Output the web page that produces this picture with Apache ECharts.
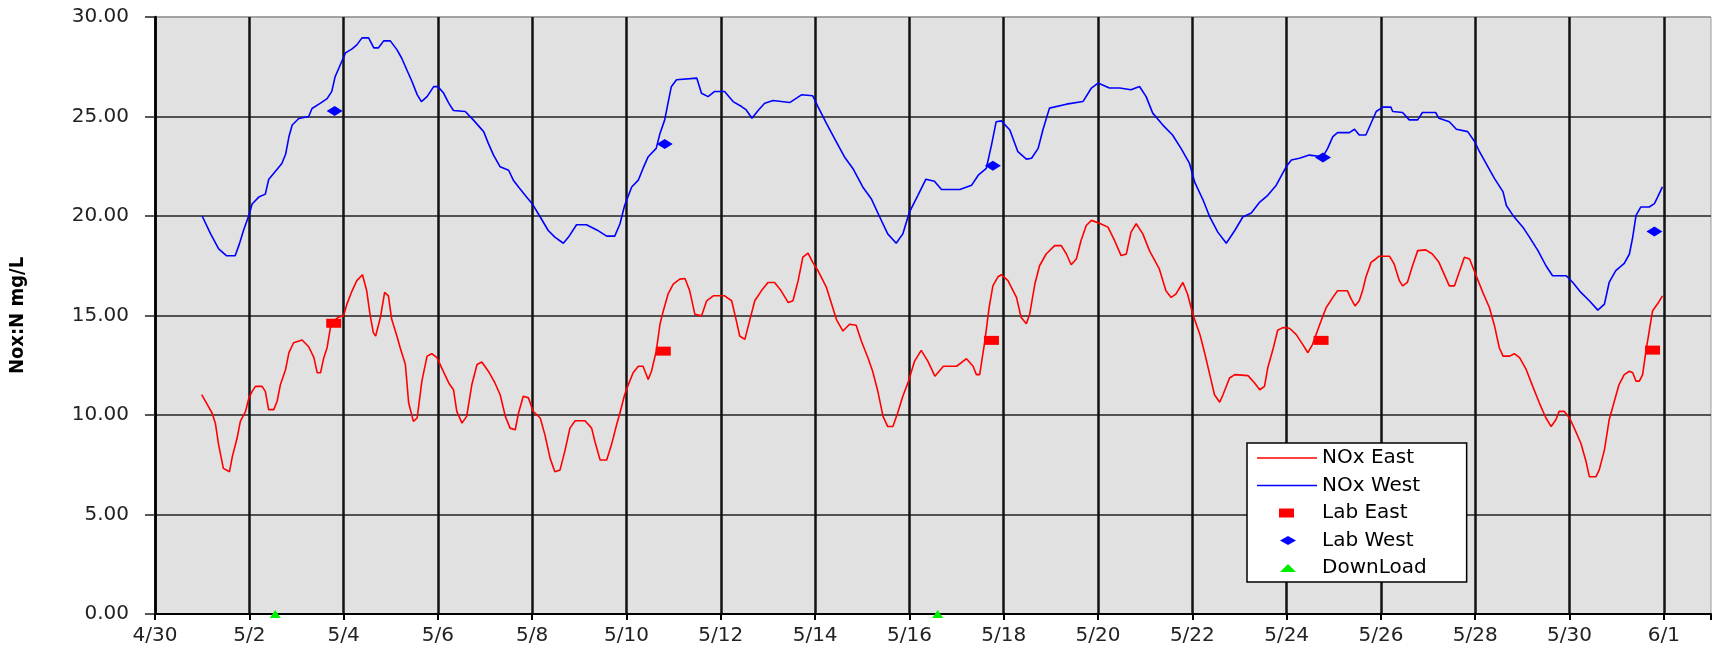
<!DOCTYPE html>
<html>
<head>
<meta charset="utf-8">
<title>NOx East / West</title>
<script src="https://cdn.jsdelivr.net/npm/echarts@6/dist/echarts.min.js"></script>
<style>
  html, body { margin: 0; padding: 0; background: #fff; }
  #chart { width: 1714px; height: 649px; }
</style>
</head>
<body>
<div id="chart"></div>
<script>
// x = days after 4/30 00:00, y = mg/L
const noxWest = [
  [1.00, 20.00], [1.18, 19.10], [1.35, 18.35], [1.52, 18.00], [1.70, 18.00], [1.79, 18.60], [1.88, 19.30],
  [1.99, 20.03], [2.06, 20.60], [2.20, 20.95], [2.34, 21.10], [2.41, 21.83], [2.59, 22.35], [2.69, 22.64],
  [2.77, 23.10], [2.84, 23.98], [2.91, 24.57], [3.05, 24.90], [3.26, 25.00], [3.33, 25.40], [3.51, 25.67],
  [3.65, 25.90], [3.75, 26.26], [3.82, 27.00], [3.93, 27.60], [4.04, 28.20], [4.18, 28.40], [4.28, 28.60],
  [4.39, 28.95], [4.53, 28.95], [4.64, 28.45], [4.74, 28.45], [4.85, 28.80], [4.99, 28.80], [5.13, 28.36],
  [5.23, 27.94], [5.34, 27.35], [5.45, 26.76], [5.56, 26.10], [5.65, 25.75], [5.77, 26.00], [5.91, 26.50],
  [6.00, 26.50], [6.12, 26.18], [6.23, 25.67], [6.33, 25.30], [6.58, 25.25], [6.75, 24.83], [6.97, 24.24],
  [7.07, 23.65], [7.18, 23.06], [7.32, 22.47], [7.50, 22.30], [7.60, 21.80], [7.71, 21.46], [7.88, 20.96],
  [8.00, 20.62], [8.17, 19.95], [8.34, 19.27], [8.48, 18.94], [8.66, 18.63], [8.77, 18.94], [8.94, 19.56],
  [9.15, 19.56], [9.37, 19.30], [9.58, 18.99], [9.75, 18.99], [9.86, 19.60], [9.96, 20.53], [10.11, 21.46],
  [10.25, 21.80], [10.35, 22.39], [10.46, 22.98], [10.63, 23.40], [10.71, 24.15], [10.81, 24.83], [10.88, 25.67],
  [10.95, 26.50], [11.06, 26.85], [11.49, 26.93], [11.59, 26.17], [11.73, 26.00], [11.87, 26.26], [12.08, 26.26],
  [12.26, 25.75], [12.44, 25.50], [12.54, 25.33], [12.66, 24.91], [12.80, 25.33], [12.93, 25.67], [13.11, 25.80],
  [13.46, 25.70], [13.71, 26.09], [13.95, 26.04], [14.06, 25.50], [14.24, 24.66], [14.41, 23.90], [14.62, 22.98],
  [14.80, 22.39], [15.01, 21.46], [15.19, 20.87], [15.37, 19.95], [15.54, 19.10], [15.72, 18.63], [15.86, 19.10],
  [16.00, 20.20], [16.18, 21.04], [16.35, 21.85], [16.53, 21.75], [16.68, 21.33], [17.07, 21.33], [17.32, 21.55],
  [17.46, 22.05], [17.63, 22.39], [17.74, 23.56], [17.84, 24.74], [17.95, 24.78], [18.13, 24.32], [18.30, 23.23],
  [18.48, 22.86], [18.59, 22.90], [18.73, 23.40], [18.83, 24.32], [18.97, 25.42], [19.33, 25.62], [19.68, 25.75],
  [19.86, 26.43], [20.00, 26.68], [20.24, 26.43], [20.46, 26.43], [20.70, 26.34], [20.88, 26.51], [21.02, 26.00],
  [21.16, 25.17], [21.37, 24.58], [21.58, 24.07], [21.76, 23.40], [21.94, 22.64], [22.05, 21.70], [22.23, 20.79],
  [22.37, 19.95], [22.54, 19.19], [22.72, 18.63], [22.90, 19.27], [23.07, 19.95], [23.25, 20.15], [23.43, 20.70],
  [23.60, 21.04], [23.78, 21.55], [23.99, 22.47], [24.10, 22.81], [24.27, 22.90], [24.48, 23.06], [24.77, 22.98],
  [24.87, 23.40], [24.98, 23.99], [25.08, 24.19], [25.33, 24.19], [25.44, 24.36], [25.54, 24.07], [25.68, 24.07],
  [25.79, 24.66], [25.90, 25.25], [26.04, 25.47], [26.21, 25.47], [26.25, 25.25], [26.46, 25.20], [26.60, 24.83],
  [26.78, 24.83], [26.88, 25.20], [27.16, 25.20], [27.23, 24.91], [27.45, 24.74], [27.60, 24.36], [27.84, 24.24],
  [27.99, 23.73], [28.09, 23.23], [28.27, 22.47], [28.41, 21.88], [28.59, 21.21], [28.66, 20.53], [28.80, 20.03],
  [29.01, 19.44], [29.15, 18.94], [29.33, 18.26], [29.50, 17.50], [29.64, 17.00], [29.93, 17.00], [30.07, 16.66],
  [30.24, 16.16], [30.42, 15.74], [30.60, 15.27], [30.74, 15.57], [30.84, 16.66], [30.98, 17.25], [31.16, 17.62],
  [31.27, 18.09], [31.34, 18.94], [31.41, 20.03], [31.51, 20.45], [31.69, 20.45], [31.80, 20.62], [31.87, 20.96],
  [31.97, 21.46]
]

const noxEast = [
  [0.99, 11.02], [1.11, 10.52], [1.21, 10.10], [1.28, 9.59], [1.35, 8.50], [1.45, 7.32], [1.58, 7.15],
  [1.64, 7.91], [1.74, 8.83], [1.81, 9.68], [1.92, 10.18], [1.99, 10.85], [2.06, 11.19], [2.13, 11.44],
  [2.27, 11.44], [2.34, 11.19], [2.41, 10.27], [2.52, 10.27], [2.59, 10.69], [2.66, 11.53], [2.77, 12.29],
  [2.84, 13.13], [2.94, 13.63], [3.12, 13.77], [3.26, 13.43], [3.37, 12.88], [3.44, 12.12], [3.51, 12.12],
  [3.58, 12.88], [3.65, 13.38], [3.72, 14.39], [3.79, 14.73], [3.90, 14.93], [4.00, 14.98], [4.07, 15.57],
  [4.18, 16.24], [4.28, 16.75], [4.40, 17.05], [4.49, 16.24], [4.56, 15.06], [4.63, 14.14], [4.68, 13.97],
  [4.78, 14.90], [4.87, 16.16], [4.95, 15.99], [5.02, 14.81], [5.13, 13.97], [5.20, 13.38], [5.31, 12.54],
  [5.38, 10.60], [5.48, 9.68], [5.56, 9.85], [5.66, 11.70], [5.77, 12.96], [5.87, 13.08], [5.98, 12.88],
  [6.08, 12.37], [6.23, 11.61], [6.33, 11.27], [6.40, 10.18], [6.51, 9.59], [6.61, 9.93], [6.72, 11.53],
  [6.83, 12.54], [6.93, 12.66], [7.07, 12.20], [7.21, 11.61], [7.32, 11.02], [7.43, 9.93], [7.53, 9.34],
  [7.64, 9.26], [7.71, 10.10], [7.81, 10.94], [7.92, 10.86], [8.02, 10.18], [8.17, 9.85], [8.27, 9.00],
  [8.38, 7.82], [8.48, 7.15], [8.59, 7.24], [8.69, 8.16], [8.80, 9.34], [8.91, 9.71], [9.12, 9.71],
  [9.26, 9.34], [9.33, 8.67], [9.44, 7.74], [9.58, 7.74], [9.68, 8.50], [9.79, 9.51], [9.86, 10.10],
  [9.96, 11.02], [10.04, 11.53], [10.14, 12.12], [10.25, 12.45], [10.35, 12.45], [10.46, 11.78], [10.53, 12.20],
  [10.63, 13.21], [10.71, 14.56], [10.78, 15.23], [10.88, 16.07], [10.99, 16.58], [11.13, 16.83], [11.24, 16.86],
  [11.34, 16.24], [11.45, 15.06], [11.59, 14.98], [11.70, 15.74], [11.84, 15.99], [12.08, 15.99], [12.23, 15.74],
  [12.33, 14.73], [12.40, 13.97], [12.51, 13.80], [12.61, 14.73], [12.72, 15.74], [12.86, 16.24], [13.00, 16.66],
  [13.14, 16.66], [13.28, 16.24], [13.43, 15.65], [13.53, 15.74], [13.64, 16.75], [13.74, 17.93], [13.85, 18.13],
  [13.95, 17.67], [14.06, 17.25], [14.24, 16.41], [14.34, 15.65], [14.45, 14.81], [14.59, 14.22], [14.73, 14.56],
  [14.87, 14.51], [14.98, 13.72], [15.12, 12.88], [15.22, 12.20], [15.33, 11.19], [15.44, 9.93], [15.54, 9.42],
  [15.65, 9.42], [15.75, 10.10], [15.86, 10.94], [15.98, 11.70], [16.11, 12.71], [16.25, 13.25], [16.39, 12.71],
  [16.54, 11.95], [16.72, 12.45], [17.00, 12.45], [17.21, 12.83], [17.35, 12.45], [17.42, 12.03], [17.49, 12.03],
  [17.60, 13.72], [17.69, 15.40], [17.77, 16.49], [17.88, 16.95], [17.95, 17.05], [18.09, 16.75], [18.27, 15.91],
  [18.37, 14.90], [18.48, 14.59], [18.55, 15.06], [18.66, 16.58], [18.76, 17.50], [18.90, 18.09], [19.08, 18.51],
  [19.22, 18.51], [19.33, 18.09], [19.43, 17.55], [19.54, 17.84], [19.64, 18.77], [19.75, 19.52], [19.86, 19.78],
  [20.03, 19.64], [20.21, 19.44], [20.35, 18.77], [20.49, 18.01], [20.60, 18.09], [20.70, 19.19], [20.81, 19.61],
  [20.95, 19.10], [21.09, 18.26], [21.30, 17.34], [21.44, 16.24], [21.55, 15.91], [21.65, 16.07], [21.80, 16.66],
  [21.90, 16.07], [22.01, 15.06], [22.16, 14.05], [22.26, 13.13], [22.37, 12.03], [22.47, 11.02], [22.58, 10.64],
  [22.65, 11.02], [22.79, 11.86], [22.90, 12.03], [23.18, 11.98], [23.32, 11.61], [23.43, 11.27], [23.53, 11.44],
  [23.60, 12.37], [23.71, 13.30], [23.81, 14.26], [23.92, 14.39], [24.06, 14.36], [24.20, 14.05], [24.34, 13.55],
  [24.45, 13.13], [24.55, 13.55], [24.69, 14.47], [24.77, 14.98], [24.84, 15.40], [24.98, 15.91], [25.08, 16.24],
  [25.29, 16.24], [25.37, 15.82], [25.45, 15.48], [25.54, 15.74], [25.61, 16.24], [25.68, 16.92], [25.79, 17.67],
  [25.89, 17.84], [25.96, 17.98], [26.18, 17.98], [26.28, 17.59], [26.39, 16.75], [26.46, 16.49], [26.56, 16.66],
  [26.67, 17.50], [26.78, 18.26], [26.95, 18.30], [27.09, 18.09], [27.23, 17.67], [27.34, 17.08], [27.45, 16.49],
  [27.56, 16.49], [27.67, 17.25], [27.77, 17.93], [27.88, 17.84], [28.02, 17.00], [28.16, 16.16], [28.30, 15.40],
  [28.41, 14.47], [28.51, 13.38], [28.59, 12.96], [28.73, 12.96], [28.83, 13.08], [28.94, 12.88], [29.08, 12.29],
  [29.22, 11.44], [29.36, 10.60], [29.50, 9.85], [29.61, 9.42], [29.71, 9.76], [29.78, 10.18], [29.89, 10.18],
  [30.00, 9.85], [30.10, 9.34], [30.24, 8.58], [30.35, 7.66], [30.42, 6.90], [30.56, 6.90], [30.63, 7.24],
  [30.74, 8.25], [30.84, 9.76], [30.95, 10.69], [31.05, 11.53], [31.16, 12.03], [31.27, 12.20], [31.34, 12.12],
  [31.41, 11.70], [31.48, 11.70], [31.55, 12.03], [31.62, 13.21], [31.69, 14.22], [31.76, 15.23], [31.87, 15.60],
  [31.97, 15.99]
]

const labEast = [[3.79, 14.61], [10.78, 13.21], [17.74, 13.75], [24.73, 13.75], [31.76, 13.26]]
const labWest = [[3.81, 25.28], [10.81, 23.62], [17.77, 22.52], [24.77, 22.94], [31.80, 19.22]]
const downLoad = [[2.55, 0], [16.60, 0]]

const yTicks = [0, 5, 10, 15, 20, 25, 30]
const xMaxDay = 33

// dates on the axis: day 0 = 4/30
function dayLabel(v) {
  if (v >= xMaxDay) return ''
  const d = new Date(2000, 3, 30 + v)
  return (d.getMonth() + 1) + '/' + d.getDate()
}

// legend icons drawn in a 60x14 box (the two M points fix the box)
const box = 'path://M0,0M60,14'
const iconLine = box + 'M0,6.3h60v1.4h-60z'
const iconRect = box + 'M22,2.5h15v9h-15z'
const iconDiamond = box + 'M23,7L31,2.4L39,7L31,11.6Z'
const iconTriangle = box + 'M23,11L31,3L39,11Z'

const font = 'DejaVu Sans'
const xSplitColors = []
for (let i = 0; i <= 16; i++) xSplitColors.push('#111')
xSplitColors.push('rgba(0,0,0,0)')
const ySplitColors = yTicks.map((t, i) => (i === yTicks.length - 1 ? '#999' : '#222'))

const chart = echarts.init(document.getElementById('chart'))
chart.setOption({
  animation: false,
  backgroundColor: '#fff',
  grid: {
    left: 153,
    right: 2,
    top: 17,
    bottom: 35,
    show: true,
    backgroundColor: '#e1e1e1',
    borderColor: '#999',
    borderWidth: 1
  },
  legend: {
    orient: 'vertical',
    left: 1247,
    top: 443,
    itemWidth: 60,
    itemHeight: 14,
    itemGap: 7.5,
    padding: [5, 40, 4, 10],
    backgroundColor: '#fff',
    borderColor: '#000',
    borderWidth: 1.5,
    borderRadius: 0,
    textStyle: { fontFamily: font, fontSize: 20, color: '#000', lineHeight: 20 },
    data: [
      { name: 'NOx East', icon: iconLine, itemStyle: { color: '#ff0000', borderWidth: 0 } },
      { name: 'NOx West', icon: iconLine, itemStyle: { color: '#0000ff', borderWidth: 0 } },
      { name: 'Lab East', icon: iconRect, itemStyle: { color: '#ff0000', borderWidth: 0 } },
      { name: 'Lab West', icon: iconDiamond, itemStyle: { color: '#0000ff', borderWidth: 0 } },
      { name: 'DownLoad', icon: iconTriangle, itemStyle: { color: '#00ee00', borderWidth: 0 } }
    ]
  },
  xAxis: {
    type: 'value',
    min: 0,
    max: xMaxDay,
    interval: 2,
    axisLine: { show: true, onZero: false, lineStyle: { color: '#000', width: 2 } },
    axisTick: { show: true, length: 6, lineStyle: { color: '#000', width: 2 } },
    axisLabel: {
      margin: 12,
      fontFamily: font,
      fontSize: 20,
      color: '#222',
      formatter: dayLabel
    },
    splitLine: { show: true, lineStyle: { color: xSplitColors, width: 2.5 } }
  },
  yAxis: {
    type: 'value',
    min: 0,
    max: 30,
    interval: 5,
    name: 'Nox:N mg/L',
    nameLocation: 'middle',
    nameRotate: 90,
    nameGap: 127,
    nameTextStyle: {
      fontFamily: 'DejaVu Sans Condensed',
      fontWeight: 'bold',
      fontSize: 20,
      color: '#000'
    },
    axisLine: { show: true, lineStyle: { color: '#000', width: 2.5 } },
    axisTick: { show: true, length: 10, lineStyle: { color: '#222', width: 1.5 } },
    axisLabel: {
      margin: 26,
      fontFamily: font,
      fontSize: 20,
      color: '#222',
      formatter: v => v.toFixed(2)
    },
    splitLine: { show: true, lineStyle: { color: ySplitColors, width: 1.5 } }
  },
  series: [
    {
      name: 'NOx East',
      type: 'line',
      data: noxEast,
      symbol: 'none',
      lineStyle: { color: '#ff0000', width: 1.6 },
      itemStyle: { color: '#ff0000' },
      z: 3
    },
    {
      name: 'NOx West',
      type: 'line',
      data: noxWest,
      symbol: 'none',
      lineStyle: { color: '#0000ff', width: 1.6 },
      itemStyle: { color: '#0000ff' },
      z: 3
    },
    {
      name: 'Lab East',
      type: 'scatter',
      data: labEast,
      symbol: 'rect',
      symbolSize: [15, 9],
      itemStyle: { color: '#ff0000', opacity: 1 },
      z: 4
    },
    {
      name: 'Lab West',
      type: 'scatter',
      data: labWest,
      symbol: 'diamond',
      symbolSize: [16, 10],
      itemStyle: { color: '#0000ff', opacity: 1 },
      z: 4
    },
    {
      name: 'DownLoad',
      type: 'scatter',
      data: downLoad,
      symbol: 'triangle',
      symbolSize: [11, 8],
      clip: false,
      itemStyle: { color: '#00ee00', opacity: 1 },
      z: 4
    }
  ]
})
</script>
</body>
</html>
